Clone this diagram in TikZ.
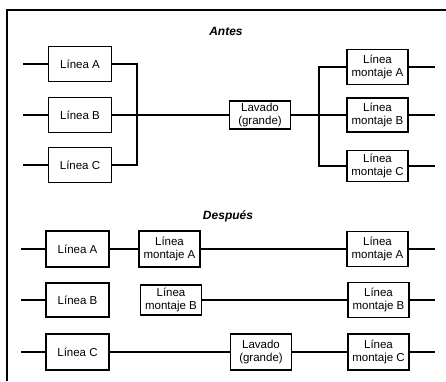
\documentclass[tikz,border=0pt]{standalone}
\usepackage{fontspec}
\setmainfont{Liberation Sans}
\usetikzlibrary{positioning}

\begin{document}
\begin{tikzpicture}[
  x=1pt, y=-1pt,
  font=\fontsize{11.5}{13}\selectfont,
  box/.style={draw, line width=1.2pt, minimum width=63pt, minimum height=35pt, align=center, inner sep=0pt},
  mbox/.style={box, minimum width=61pt},
  ln/.style={line width=1.2pt},
  head/.style={font=\fontsize{12}{13}\selectfont\bfseries\itshape}
]
\useasboundingbox (0,0) rectangle (446,381);
\draw[ln] (7,381) -- (7,10) -- (446,10);

% antes
\node[head] (antes) at (226,31) {Antes};
\node[box] (linA) at (80,64) {Línea A};
\node[box] (linB) at (80,115) {Línea B};
\node[box] (linC) at (80,165) {Línea C};
\node[mbox, minimum height=28pt] (lav) at (260,115) {Lavado\\(grande)};
\node[mbox] (montA) at (377.5,67) {Línea\\montaje A};
\node[mbox, minimum height=34pt] (montB) at (377.5,115) {Línea\\montaje B};
\node[mbox, minimum height=31pt] (montC) at (377.5,166) {Línea\\montaje C};
\coordinate (inA) at (23,64);
\coordinate (inB) at (23,115);
\coordinate (inC) at (23,165);
\coordinate (colA) at (137,64);
\coordinate (colC) at (137,165);
\coordinate (spA) at (319,67);
\coordinate (spC) at (319,166);
\coordinate (outA) at (435,67);
\coordinate (outB) at (435,115);
\coordinate (outC) at (435,166);
\draw[ln] (inA) -- (linA);
\draw[ln] (inB) -- (linB);
\draw[ln] (inC) -- (linC);
\draw[ln] (linA) -- (colA) -- (colC) -- (linC);
\draw[ln] (linB) -- (lav);
\draw[ln] (lav) -- (montB);
\draw[ln] (montA) -- (spA) -- (spC) -- (montC);
\draw[ln] (montA) -- (outA);
\draw[ln] (montB) -- (outB);
\draw[ln] (montC) -- (outC);

% despues
\node[head] (desp) at (228,216) {Después};
\node[box, minimum height=36pt] (linA2) at (77.5,249) {Línea A};
\node[box, minimum height=34pt] (linB2) at (77.5,300) {Línea B};
\node[box, minimum height=36pt] (linC2) at (77.5,352) {Línea C};
\node[mbox, minimum height=36pt] (montA2) at (169.5,249) {Línea\\montaje A};
\node[mbox, minimum height=30pt] (montB2) at (171,300) {Línea\\montaje B};
\node[mbox, minimum height=36pt] (lav2) at (261,352) {Lavado\\(grande)};
\node[mbox] (montA3) at (377.5,249) {Línea\\montaje A};
\node[mbox] (montB3) at (378.5,300) {Línea\\montaje B};
\node[mbox, minimum height=36pt] (montC3) at (378.5,352) {Línea\\montaje C};
\coordinate (inA2) at (21,249);
\coordinate (inB2) at (21,300);
\coordinate (inC2) at (21,352);
\coordinate (outA2) at (435,249);
\coordinate (outB2) at (435,300);
\coordinate (outC2) at (435,352);
\draw[ln] (inA2) -- (linA2);
\draw[ln] (inB2) -- (linB2);
\draw[ln] (inC2) -- (linC2);
\draw[ln] (linA2) -- (montA2);
\draw[ln] (montA2) -- (montA3);
\draw[ln] (montB2) -- (montB3);
\draw[ln] (linC2) -- (lav2);
\draw[ln] (lav2) -- (montC3);
\draw[ln] (montA3) -- (outA2);
\draw[ln] (montB3) -- (outB2);
\draw[ln] (montC3) -- (outC2);
\end{tikzpicture}
\end{document}
